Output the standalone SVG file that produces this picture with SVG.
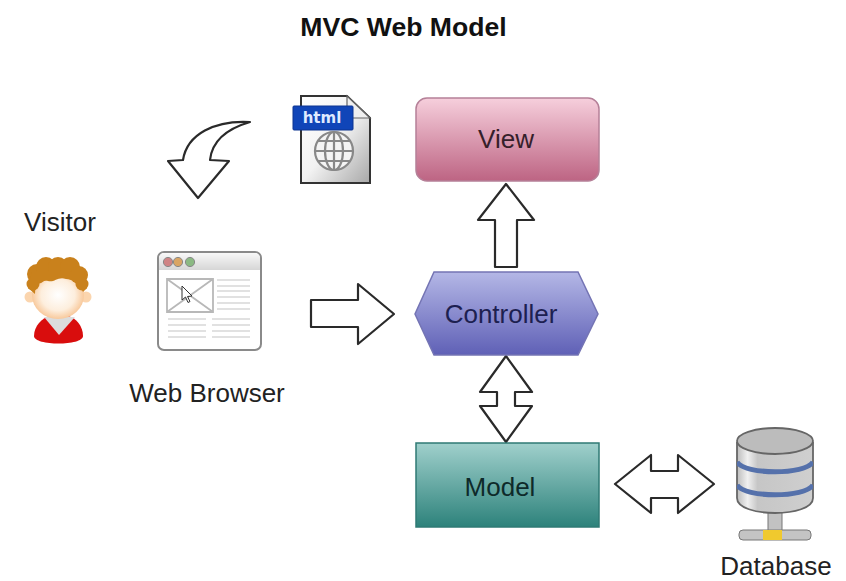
<svg xmlns="http://www.w3.org/2000/svg" width="846" height="581" viewBox="0 0 846 581">
<style>
text{font-family:"Liberation Sans",Arial,sans-serif;fill:#222;text-anchor:middle;font-size:26px}
.a{fill:#fff;stroke:#2a2a2a;stroke-width:2.2;stroke-linejoin:round}
.l{stroke:#d8d8d8;stroke-width:1.4;fill:none}
.hair{fill:#c9811c}
</style>
<defs>
<linearGradient id="gv" x1="0" y1="0" x2="0" y2="1"><stop offset="0" stop-color="#f6cfdc"/><stop offset="1" stop-color="#bd6483"/></linearGradient>
<linearGradient id="gc" x1="0" y1="0" x2="0" y2="1"><stop offset="0" stop-color="#b4b7e6"/><stop offset="1" stop-color="#5f60b6"/></linearGradient>
<linearGradient id="gm" x1="0" y1="0" x2="0" y2="1"><stop offset="0" stop-color="#a0d0cc"/><stop offset="1" stop-color="#2d827b"/></linearGradient>
<linearGradient id="gd" x1="0" y1="0" x2="1" y2="1"><stop offset="0" stop-color="#fff"/><stop offset=".5" stop-color="#f2f2f2"/><stop offset="1" stop-color="#a8a8a8"/></linearGradient>
<linearGradient id="gb" x1="0" y1="0" x2="0" y2="1"><stop offset="0" stop-color="#f8f8f8"/><stop offset="1" stop-color="#d6d6d6"/></linearGradient>
<linearGradient id="gcyl" x1="0" y1="0" x2="1" y2="0"><stop offset="0" stop-color="#bdbdbd"/><stop offset=".14" stop-color="#f0f0f0"/><stop offset=".27" stop-color="#c6c6c6"/><stop offset="1" stop-color="#cfcfcf"/></linearGradient>
<radialGradient id="gf"><stop offset="0" stop-color="#fff"/><stop offset=".65" stop-color="#fdeedd"/><stop offset="1" stop-color="#f8c99c"/></radialGradient>
<clipPath id="cyl"><path d="M737 443V498C737 518 813 518 813 498V443Z"/></clipPath>
</defs>
<text id="title" x="403.500" y="36" style="font-weight:bold;font-size:26.600px;fill:#111">MVC Web Model</text>

<g id="connectors">
<path class="a" d="M250 122C215 120 187 134 183 160L168 161L198 198L229 161L210 160C212 141 226 129 250 122Z"/>
<path class="a" d="M311 300H358V284L394 314L358 344V327H311Z"/>
<path class="a" d="M495 267V220H478L506 184L534 220H517V267Z"/>
<path class="a" d="M506 356L532 392H515V406H532L506 442L480 406H497V392H480Z"/>
<path class="a" d="M615 484L651 455V471H678V455L714 484L678 513V498H651V513Z"/>
</g>

<g id="html-file">
<path d="M301 96H347L370 118V183H301Z" fill="url(#gd)" stroke="#333" stroke-width="2"/>
<path d="M347 96V118H370Z" fill="#f0f0f0" stroke="#666" stroke-width="1.2"/>
<rect x="293" y="106" width="60" height="24" rx="1" fill="#1045b8" stroke="#0c3490"/>
<text x="322" y="123" style="font-size:15px;font-weight:bold;fill:#dfeaff;font-family:'DejaVu Sans',sans-serif">html</text>
<g fill="none" stroke="#888" stroke-width="2.2">
<circle cx="334" cy="151" r="19" fill="#f4f4f4"/>
<ellipse cx="334" cy="151" rx="9" ry="19"/>
<path d="M334 132V170M315 151H353M318 141H350M318 161H350"/>
</g>
</g>

<g id="view"><rect x="416" y="98" width="183" height="83" rx="11" fill="url(#gv)" stroke="#b58098" stroke-width="1.5"/><text x="506" y="148" style="fill:#35202a">View</text></g>
<g id="controller"><path d="M434 272H578L598 314L578 355H434L415 314Z" fill="url(#gc)" stroke="#7474b4" stroke-width="1.5"/><text x="501" y="323" style="fill:#1d2050">Controller</text></g>
<g id="model"><rect x="416" y="443" width="183" height="84" fill="url(#gm)" stroke="#2f7a74" stroke-width="1.5"/><text x="500" y="496" style="fill:#0e2a2a">Model</text></g>

<g id="visitor">
<text x="60" y="231">Visitor</text>
<path d="M34 336C34 326 42 318 50 316H68C76 318 83 326 83 336C83 346 34 346 34 336Z" fill="#d90d0d"/>
<path d="M44 317L59 335L75 317Z" fill="#dcdcdc"/>
<circle cx="30" cy="297" r="5.500" fill="#fbd5ae"/><circle cx="86" cy="297" r="5.500" fill="#fbd5ae"/>
<ellipse cx="58" cy="295" rx="26" ry="24" fill="url(#gf)"/>
<g class="hair">
<circle cx="37" cy="274" r="10"/><circle cx="33" cy="284" r="6.500"/><circle cx="46" cy="267" r="10"/><circle cx="58" cy="267" r="10"/><circle cx="70" cy="267" r="10"/><circle cx="79" cy="275" r="9"/><circle cx="82" cy="284" r="6.500"/>
<path d="M32 272H84L87 288L83 292C80 284 72 279 66 279C58 276 54 283 48 281C40 280 35 285 35 294L28 288Z"/>
</g>
</g>

<g id="browser">
<rect x="158" y="252" width="103" height="98" rx="6" fill="#fff" stroke="#8a8a8a" stroke-width="2"/>
<path d="M159 270V258A5 5 0 0 1 164 253H255A5 5 0 0 1 260 258V270Z" fill="url(#gb)"/>
<circle cx="168" cy="262" r="4.600" fill="#cf8384" stroke="#888"/><circle cx="178" cy="262" r="4.600" fill="#d9a564" stroke="#888"/><circle cx="190" cy="262" r="4.600" fill="#8bb983" stroke="#888"/>
<path d="M167 279H213V312H167ZM167 279L213 312M213 279L167 312" fill="none" stroke="#b8b8b8" stroke-width="1.8"/>
<path class="l" d="M217 280H250M217 286H250M217 291H250M217 297H250M217 303H250M217 309H250M168 319H206M212 319H250M168 325H206M212 325H250M168 331H206M212 331H250M168 337H206M212 337H250"/>
<path d="M182 286V300L185.500 297L188 302.500L190 301.500L187.500 296.500L192 296Z" fill="#fff" stroke="#333"/>
<text x="207" y="402">Web Browser</text>
</g>

<g id="database">
<rect x="768" y="505" width="14" height="27" fill="#c2c2c2" stroke="#777"/>
<rect x="739" y="530" width="72" height="10" rx="4" fill="#c4c4c4" stroke="#777"/>
<rect x="763" y="530" width="19" height="10" fill="#f0c92e"/>
<path d="M737 443V498C737 518 813 518 813 498V443Z" fill="url(#gcyl)" stroke="#666" stroke-width="1.8"/>
<g clip-path="url(#cyl)"><path d="M737 462C745 475 805 475 813 462M737 485C745 498 805 498 813 485" fill="none" stroke="#5571ab" stroke-width="5"/></g>
<ellipse cx="775" cy="441" rx="38" ry="13" fill="#bcbcbc" stroke="#666" stroke-width="1.8"/>
<text x="776" y="575">Database</text>
</g>
</svg>
